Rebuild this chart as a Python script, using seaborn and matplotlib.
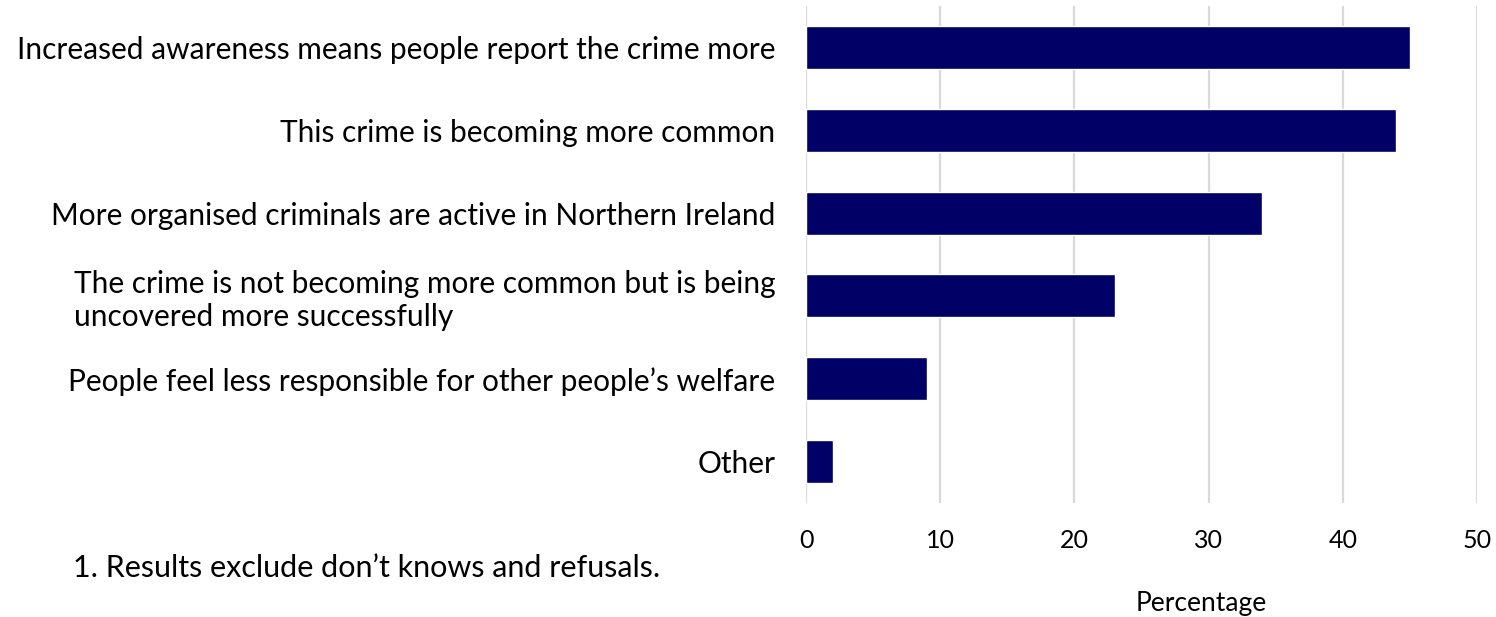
import matplotlib
matplotlib.use("Agg")
import matplotlib.pyplot as plt
import seaborn as sns
import pandas as pd

categories = [
    "Increased awareness means people report the crime more",
    "This crime is becoming more common",
    "More organised criminals are active in Northern Ireland",
    "The crime is not becoming more common but is being\nuncovered more successfully",
    "People feel less responsible for other people\u2019s welfare",
    "Other",
]
values = [45, 44, 34, 23, 9, 2]
x_ticks = [0, 10, 20, 30, 40, 50]

sns.set_theme(style="white")
plt.rcParams["font.family"] = ["Lato", "DejaVu Sans"]

df = pd.DataFrame({"reason": categories, "pct": values})

W, H = 1496, 617
fig = plt.figure(figsize=(W / 100, H / 100), dpi=100)
ax = fig.add_axes([806 / W, 1 - 503 / H, (1477 - 806) / W, 497 / H])

sns.barplot(data=df, y="reason", x="pct", orient="h", color="#000066",
            width=0.52, ax=ax, saturation=1, zorder=3)

ax.set_xlim(0, 50)
ax.set_ylim(5.5, -0.5)
ax.set_xticks(x_ticks)
ax.set_xticklabels([str(t) for t in x_ticks])
ax.grid(axis="x", color="#d9d9d9", linewidth=1.6, zorder=0)
ax.grid(axis="y", visible=False)
for s in ax.spines.values():
    s.set_visible(False)
ax.tick_params(axis="both", length=0)
ax.tick_params(axis="y", labelsize=21.5, pad=22, colors="#000000")
ax.tick_params(axis="x", labelsize=18, pad=19, colors="#000000")
for lbl in ax.get_yticklabels():
    lbl.set_multialignment("left")

ax.set_ylabel("")
ax.set_xlabel("Percentage", fontsize=19, color="#000000")
ax.xaxis.set_label_coords((1201 - 806) / (1477 - 806), (503 - 603) / 497)
ax.xaxis.label.set_va("center")

fig.text(73 / W, 1 - 568 / H, "1. Results exclude don\u2019t knows and refusals.",
         fontsize=22, va="center", ha="left", color="#000000")

fig.savefig("out.png", dpi=100, facecolor="white")
